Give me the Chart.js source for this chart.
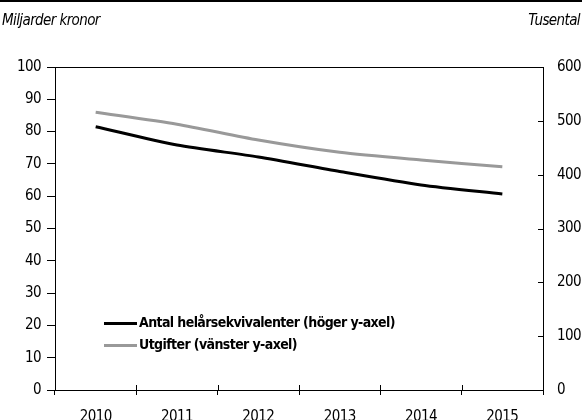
<!DOCTYPE html>
<html>
<head>
<meta charset="utf-8">
<script src="https://cdn.jsdelivr.net/npm/chart.js@4"></script>
<style>
  body { margin: 0; background: #fff; }
  #wrap { width: 582px; height: 420px; }
</style>
</head>
<body>
<div id="wrap"><canvas id="graf" width="582" height="420"></canvas></div>
<script>
const ar = ['2010', '2011', '2012', '2013', '2014', '2015'];
const helarsekv = [489, 455, 433, 406, 381, 364];   // tusental, höger axel
const utgifter = [86, 82.3, 77.4, 73.6, 71.2, 69.1]; // miljarder kr, vänster axel

const FONT = '"DejaVu Sans Condensed", "Liberation Sans Narrow", sans-serif';

const ramPlugin = {
  id: 'ram',
  beforeDraw(chart) {
    chart.ctx.letterSpacing = '-0.6px';
  },
  afterDraw(chart) {
    const ctx = chart.ctx;
    const a = chart.chartArea;
    ctx.save();
    // linje överst
    ctx.strokeStyle = '#000';
    ctx.lineWidth = 2;
    ctx.beginPath();
    ctx.moveTo(0, 1);
    ctx.lineTo(582, 1);
    ctx.stroke();
    // ram top
    ctx.lineWidth = 1;
    ctx.beginPath();
    ctx.moveTo(a.left, a.top + 0.5);
    ctx.lineTo(a.right, a.top + 0.5);
    ctx.stroke();
    // höger ticks inåt
    const yR = chart.scales.yR;
    yR.ticks.forEach(t => {
      const y = Math.round(yR.getPixelForValue(t.value)) + 0.5;
      ctx.beginPath();
      ctx.moveTo(a.right - 5, y);
      ctx.lineTo(a.right, y);
      ctx.stroke();
    });
    // x-ticks även ovanför axeln
    const x = chart.scales.x;
    for (let i = 0; i <= ar.length; i++) {
      const px = Math.round(x.left + i * (x.width / ar.length)) + 0.5;
      ctx.beginPath();
      ctx.moveTo(px, a.bottom - 5);
      ctx.lineTo(px, a.bottom);
      ctx.stroke();
    }
    // axeltitlar
    ctx.fillStyle = '#000';
    ctx.font = 'italic 15px ' + FONT;
    ctx.textBaseline = 'middle';
    ctx.textAlign = 'left';
    ctx.fillText('Miljarder kronor', 2, 21);
    ctx.textAlign = 'right';
    ctx.fillText('Tusental', 580, 21);
    // legend
    ctx.font = 'bold 14px ' + FONT;
    ctx.textAlign = 'left';
    const rows = [chart.data.datasets[0], chart.data.datasets[1]];
    rows.forEach((ds, i) => {
      const y = 323.5 + i * 22;
      ctx.strokeStyle = ds.borderColor;
      ctx.lineWidth = 3;
      ctx.beginPath();
      ctx.moveTo(104, y);
      ctx.lineTo(137, y);
      ctx.stroke();
      ctx.fillText(ds.label, 139, y);
    });
    ctx.restore();
  }
};

new Chart(document.getElementById('graf'), {
  type: 'line',
  data: {
    labels: ar,
    datasets: [{
      label: 'Antal helårsekvivalenter (höger y-axel)',
      data: helarsekv,
      yAxisID: 'yR',
      borderColor: '#000',
      borderWidth: 3,
      pointRadius: 0,
      tension: 0.25
    }, {
      label: 'Utgifter (vänster y-axel)',
      data: utgifter,
      yAxisID: 'yL',
      borderColor: '#999',
      borderWidth: 3,
      pointRadius: 0,
      tension: 0.25
    }]
  },
  options: {
    responsive: false,
    animation: false,
    layout: { padding: { top: 67, left: 0, right: 0, bottom: 0 } },
    plugins: { legend: { display: false }, tooltip: { enabled: false } },
    scales: {
      x: {
        offset: true,
        grid: { offset: true, drawOnChartArea: false, tickLength: 5, color: '#000' },
        border: { color: '#000' },
        ticks: { color: '#000', font: { family: FONT, size: 15 }, padding: 13, maxRotation: 0 },
        afterFit(s) { s.height = 30; }
      },
      yL: {
        position: 'left',
        min: 0, max: 100,
        ticks: { stepSize: 10, color: '#000', font: { family: FONT, size: 15 }, padding: 6 },
        grid: { drawOnChartArea: false, tickLength: 8, color: '#000' },
        border: { color: '#000' },
        afterFit(s) { s.width = 55; }
      },
      yR: {
        position: 'right',
        min: 0, max: 600,
        ticks: { stepSize: 100, color: '#000', font: { family: FONT, size: 15 }, padding: 14 },
        grid: { drawOnChartArea: false, drawTicks: false, tickLength: 0 },
        border: { color: '#000' },
        afterFit(s) { s.width = 39; }
      }
    }
  },
  plugins: [ramPlugin]
});
</script>
</body>
</html>
